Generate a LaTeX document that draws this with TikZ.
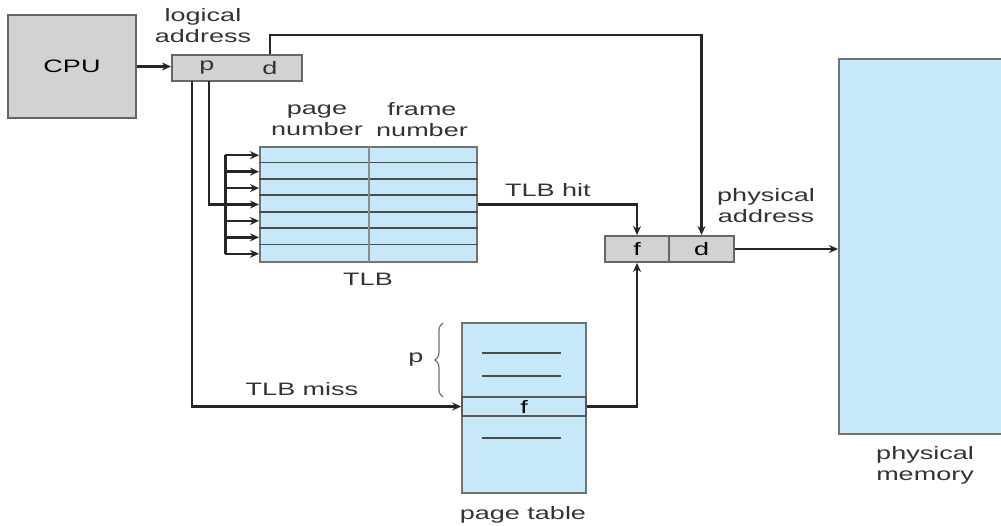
\documentclass[tikz,border=0pt]{standalone}
\usepackage{fontspec}
\setmainfont{Liberation Sans}[FakeStretch=1.5]
\usetikzlibrary{arrows.meta,decorations.pathreplacing,calc}
\definecolor{lblue}{RGB}{198,232,248}
\definecolor{lgray}{RGB}{210,210,210}
\begin{document}
\begin{tikzpicture}[x=1pt,y=-1pt,
  font=\fontsize{18}{21}\selectfont,
  line/.style={draw=black!85, line width=2.4pt},
  arr/.style={line, -{Stealth[length=9pt,width=8pt]}},
  graybox/.style={draw=black!60, line width=2pt, fill=lgray, inner sep=0pt},
  bluebox/.style={draw=black!55, line width=2pt, fill=lblue, inner sep=0pt},
  rowline/.style={draw=black!70, line width=1.6pt},
  lbl/.style={align=center, inner sep=0pt, text=black!80}
]
\clip (0,0) rectangle (1001,525);
\fill[white] (0,0) rectangle (1001,525);

% CPU
\node[graybox, minimum width=128pt, minimum height=103pt] (cpu) at (72,66.5) {CPU};

% logical address
\node[graybox, minimum width=130pt, minimum height=26pt] (la) at (237,68) {};
\node[lbl] (pl) at (207,68) {p};
\node[lbl] (dl) at (270,68) {d};
\node[lbl] (lalbl) at (203,26) {logical\\address};

% TLB
\node[bluebox, minimum width=217pt, minimum height=115pt] (tlb) at (368.5,204.5) {};
\foreach \k in {1,...,6} {
  \draw[rowline] ($(tlb.north west)+(0,\k*16.43)$) -- ($(tlb.north east)+(0,\k*16.43)$);
}
\draw[draw=black!45, line width=1.4pt] (369,147) -- (369,262);
\node[lbl] (pn) at (317,120) {page\\number};
\node[lbl] (fn) at (422,120) {frame\\number};
\node[lbl] (tlblbl) at (368,279) {TLB};

% bus into TLB
\coordinate (bustop) at (225,155.2);
\coordinate (busbot) at (225,253.8);
\draw[line, line width=3pt] (bustop) -- (busbot);
\foreach \k in {0,...,6} {
  \draw[arr] (225,{155.2+\k*16.43}) -- ({tlb.west} |- 0,{155.2+\k*16.43});
}

% physical address
\node[graybox, minimum width=64pt, minimum height=26pt] (pf) at (637,249) {f};
\node[graybox, minimum width=65pt, minimum height=26pt] (pd) at (701.5,249) {d};
\node[lbl] (palbl) at (766,206) {physical\\address};

% page table
\node[bluebox, minimum width=124pt, minimum height=170pt] (pt) at (524,408) {};
\node[draw=black!65, line width=1.6pt, minimum width=124pt, minimum height=19pt, inner sep=0pt] (ptf) at (524,406.5) {f};
\foreach \yy in {353,376,438} {
  \draw[rowline] (482,\yy) -- (561,\yy);
}
\draw[decorate, decoration={brace, amplitude=8pt}, draw=black!55, line width=1.2pt] (443,397) -- (443,323);
\node[lbl] (plbl) at (416,360) {p};
\node[lbl] (ptlbl) at (523,515) {page table};

% physical memory
\node[bluebox, minimum width=200pt, minimum height=375pt, anchor=north west] (mem) at (838,58) {};
\node[lbl] (memlbl) at (925,465) {physical\\memory};

% connectors
\draw[arr] (cpu.east) -- (cpu.east -| la.west);
\draw[arr] (dl |- la.north) -- ++(0,-19) -| (pd.north);
\coordinate (p1) at (192,81);
\coordinate (p2) at (209,81);
\draw[arr] (p1) |- (ptf.west);
\draw[line] (p2) |- (225,204.5);
\draw[arr] (tlb.east) -| (pf.north);
\node[lbl] (hit) at (548,190) {TLB hit};
\node[lbl] (miss) at (302,389) {TLB miss};
\draw[arr] (ptf.east) -| (pf.south);
\draw[arr, line width=1.8pt] (pd.east) -- (pd.east -| mem.west);
\end{tikzpicture}
\end{document}
